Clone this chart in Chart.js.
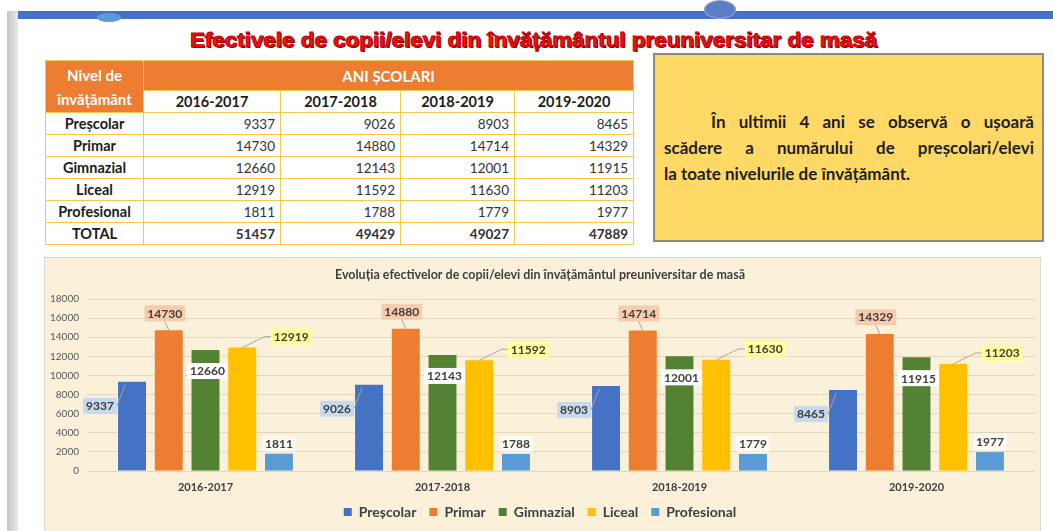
<!DOCTYPE html>
<html lang="ro">
<head>
<meta charset="utf-8">
<script src="https://cdn.jsdelivr.net/npm/chart.js@4.4.1/dist/chart.umd.min.js"></script>
<style>
  html, body { margin: 0; padding: 0; background: #fff; width: 1053px; height: 531px; overflow: hidden; font-family: Lato, "Open Sans", sans-serif; }
  .strip { position: absolute; left: 7px; top: 11px; width: 11px; height: 520px; background: linear-gradient(to right, #c6c6c6, #e8e8e8); }
  .topbar { position: absolute; left: 18px; top: 11px; right: 0; height: 8px; background: #4472C4; }
  .bump { position: absolute; left: 97px; top: 13px; width: 24px; height: 9px; border-radius: 50%; background: #5b9bd5; }
  .logo { position: absolute; left: 704px; top: 0; width: 30px; height: 17px; border-radius: 50%; border: 1px solid #9aa7c0; background: #5a7fc6; }
  h1 { position: absolute; left: 0; top: 27px; width: 1053px; margin: 0; text-align: center;
       font-family: "Liberation Sans", Arial, sans-serif; font-weight: bold; font-size: 20px; line-height: 26px; color: #f01414;
       -webkit-text-stroke: 0.9px #c00000; text-shadow: 1px 1px 0 #5a0000; transform: translateX(7px) scaleX(1.12); }
  table { position: absolute; left: 45px; top: 60px; border-collapse: collapse; table-layout: fixed; width: 588px; }
  th, td { border: 1px solid #F3CB4B; padding: 0; color: #1c1c1c; }
  th { font-weight: bold; font-size: 14.5px; }
  .orange th { background: #ED7D31; color: #fff; height: 29px; font-size: 15px; }
  th.lvl { background: #ED7D31; color: #fff; line-height: 24px; }
  .years th { background: #fff; height: 21px; }
  tbody th { height: 21px; }
  td { text-align: right; padding-right: 5px; font-size: 13.5px; color: #333; }
  tr.total th, tr.total td { font-weight: bold; }
  .note { position: absolute; left: 653px; top: 53px; width: 391px; height: 189px; box-sizing: border-box;
          border: 2px solid #8e8a7c; background: #FFD966; display: flex; flex-direction: column; justify-content: center;
          padding: 0 8px 0 9px; font-weight: bold; font-size: 17px; line-height: 26px; color: #1e1e1e; }
  .note div { text-align: justify; text-align-last: justify; }
  .note div.first { padding-left: 47px; }
  .note div.last { text-align-last: left; }
  .chartbox { position: absolute; left: 45px; top: 258px; width: 995px; height: 274px;
              background: #FBF0DA; box-shadow: 0 0 0 1px #dcd6cc; }
</style>
</head>
<body>
<div class="strip"></div>
<div class="topbar"></div>
<div class="bump"></div>
<div class="logo"></div>
<h1>Efectivele de copii/elevi din învățământul preuniversitar de masă</h1>

<table id="tbl">
  <colgroup><col style="width:98px"><col style="width:137px"><col style="width:120px"><col style="width:114px"><col style="width:119px"></colgroup>
  <thead>
    <tr class="orange"><th class="lvl" rowspan="2">Nivel de<br>învățământ</th><th colspan="4">ANI ȘCOLARI</th></tr>
    <tr class="years" id="yearRow"></tr>
  </thead>
  <tbody id="tbody"></tbody>
</table>

<div class="note">
  <div class="first">În ultimii 4 ani se observă o ușoară</div>
  <div>scădere a numărului de preșcolari/elevi</div>
  <div class="last">la toate nivelurile de învățământ.</div>
</div>

<div class="chartbox"><canvas id="chart"></canvas></div>

<script>
const years = ['2016-2017', '2017-2018', '2018-2019', '2019-2020'];
const levels = ['Preșcolar', 'Primar', 'Gimnazial', 'Liceal', 'Profesional'];
const prescolar = [9337, 9026, 8903, 8465];
const primar = [14730, 14880, 14714, 14329];
const gimnazial = [12660, 12143, 12001, 11915];
const liceal = [12919, 11592, 11630, 11203];
const profesional = [1811, 1788, 1779, 1977];
const totals = [51457, 49429, 49027, 47889];

const series = [prescolar, primar, gimnazial, liceal, profesional];
const colors = ['#4472C4', '#ED7D31', '#548235', '#FFC000', '#5B9BD5'];

// table from the same arrays
document.getElementById('yearRow').innerHTML = years.map(y => '<th>' + y + '</th>').join('');
let rows = levels.map((name, i) =>
  '<tr><th>' + name + '</th>' + series[i].map(v => '<td>' + v + '</td>').join('') + '</tr>').join('');
rows += '<tr class="total"><th>TOTAL</th>' + totals.map(v => '<td>' + v + '</td>').join('') + '</tr>';
document.getElementById('tbody').innerHTML = rows;

// label boxes like the excel callouts
const labelStyle = [
  { bg: '#C5D9EF', dx: -32, dy: 24, line: 'left' },
  { bg: '#F8CBAD', dx: -4, dy: -17, line: 'down' },
  { bg: '#FFFFFF', dx: 2, dy: 21 },
  { bg: '#FFFF99', dx: 49, dy: -11, line: 'right' },
  { bg: 'rgba(255,255,255,0.6)', dx: 0, dy: -10 }
];

const callouts = {
  id: 'callouts',
  afterDatasetsDraw(chart) {
    const ctx = chart.ctx;
    ctx.save();
    ctx.font = 'bold 12px Lato';
    ctx.textAlign = 'center';
    ctx.textBaseline = 'middle';
    chart.data.datasets.forEach((ds, di) => {
      const st = labelStyle[di];
      chart.getDatasetMeta(di).data.forEach((bar, i) => {
        const txt = String(ds.data[i]);
        const w = ctx.measureText(txt).width + 6, h = 16;
        const cx = bar.x + st.dx, cy = bar.y + st.dy;
        ctx.strokeStyle = '#a6a6a6';
        ctx.lineWidth = 1;
        ctx.beginPath();
        if (st.line === 'left') {
          ctx.moveTo(cx + w / 2, cy);
          ctx.lineTo(bar.x - bar.width / 2 + 7, bar.y + 3);
        } else if (st.line === 'down') {
          ctx.moveTo(cx, cy + h / 2);
          ctx.lineTo(bar.x, bar.y);
        } else if (st.line === 'right') {
          ctx.moveTo(bar.x, bar.y);
          ctx.lineTo(cx - w / 2 - 6, cy);
          ctx.lineTo(cx - w / 2, cy);
        }
        ctx.stroke();
        ctx.fillStyle = st.bg;
        ctx.fillRect(cx - w / 2, cy - h / 2, w, h);
        ctx.fillStyle = '#404040';
        ctx.fillText(txt, cx, cy + 0.5);
      });
    });
    ctx.restore();
  }
};

new Chart(document.getElementById('chart'), {
  type: 'bar',
  data: {
    labels: years,
    datasets: levels.map((name, i) => ({
      label: name,
      data: series[i],
      backgroundColor: colors[i],
      categoryPercentage: 0.775,
      barPercentage: 0.76
    }))
  },
  options: {
    responsive: true,
    maintainAspectRatio: false,
    animation: false,
    layout: { padding: { left: 0, right: 5, top: 0, bottom: 3 } },
    plugins: {
      title: {
        display: true,
        text: 'Evoluția efectivelor de copii/elevi din învățământul preuniversitar de masă',
        color: '#404040',
        font: { family: 'Lato', size: 12.5, weight: 'bold' },
        padding: { top: 9.5, bottom: 16.5 }
      },
      legend: {
        position: 'bottom',
        labels: {
          boxWidth: 8, boxHeight: 8, padding: 13, color: '#404040',
          font: { family: 'Lato', size: 14, weight: 'bold' }
        }
      },
      tooltip: { enabled: false }
    },
    scales: {
      x: {
        grid: { display: false, drawTicks: false },
        border: { display: false },
        ticks: { color: '#404040', padding: 10, font: { family: 'Lato', size: 11, weight: 'bold' } },
        afterFit(s) { s.height = 21; }
      },
      y: {
        min: 0, max: 18000,
        ticks: {
          stepSize: 2000, color: '#595959', padding: 8, font: { family: 'Lato', size: 10 },
          callback: v => String(v)
        },
        grid: { color: '#E3D6BA', drawTicks: false },
        border: { display: false },
        afterFit(s) { s.width = 42; }
      }
    }
  },
  plugins: [callouts]
});
</script>
</body>
</html>
